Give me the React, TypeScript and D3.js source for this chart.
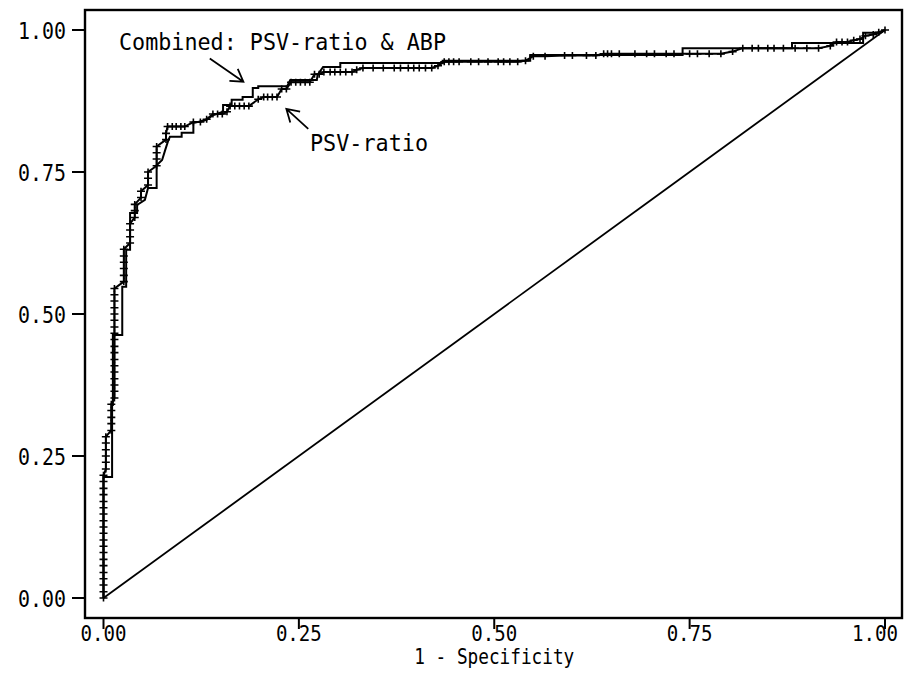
import React from 'react';
import * as d3 from 'd3';

const xTicks = [0, 0.25, 0.5, 0.75, 1];
const yTicks = [0, 0.25, 0.5, 0.75, 1];
const xTickLabels = ['0.00', '0.25', '0.50', '0.75', '1.00'];
const yTickLabels = ['0.00', '0.25', '0.50', '0.75', '1.00'];
const xTitle = '1 - Specificity';
const labelCombined = 'Combined: PSV-ratio & ABP';
const labelPsv = 'PSV-ratio';

// PSV-ratio ROC points (1 - specificity, sensitivity), each marked with "+"
const psvRatio: [number, number][] = [
  [0, 0], [0, 0.011], [0, 0.023], [0, 0.034], [0, 0.045], [0, 0.057], [0, 0.068], [0, 0.08],
  [0, 0.091], [0, 0.102], [0, 0.114], [0, 0.125], [0, 0.136], [0, 0.148], [0, 0.159], [0, 0.17],
  [0, 0.182], [0, 0.193], [0, 0.205], [0, 0.216],
  [0.003, 0.227], [0.003, 0.239], [0.003, 0.25], [0.003, 0.261], [0.003, 0.273], [0.003, 0.284],
  [0.01, 0.295], [0.01, 0.307], [0.01, 0.318], [0.01, 0.33], [0.01, 0.341],
  [0.014, 0.352], [0.014, 0.364], [0.014, 0.375], [0.014, 0.386], [0.014, 0.398], [0.014, 0.409],
  [0.014, 0.42], [0.014, 0.432], [0.014, 0.443], [0.014, 0.455], [0.014, 0.466], [0.014, 0.477],
  [0.014, 0.489], [0.014, 0.5], [0.014, 0.511], [0.014, 0.523], [0.014, 0.534], [0.014, 0.545],
  [0.026, 0.557], [0.026, 0.568], [0.026, 0.58], [0.026, 0.591], [0.026, 0.602], [0.026, 0.614],
  [0.034, 0.625], [0.034, 0.636], [0.034, 0.648], [0.034, 0.659],
  [0.04, 0.67], [0.04, 0.682], [0.04, 0.693],
  [0.048, 0.705], [0.048, 0.716],
  [0.057, 0.727], [0.057, 0.739], [0.057, 0.75],
  [0.068, 0.761], [0.068, 0.773], [0.068, 0.784], [0.068, 0.795],
  [0.08, 0.807], [0.08, 0.818],
  [0.082, 0.83], [0.088, 0.83], [0.093, 0.83], [0.099, 0.83], [0.104, 0.83],
  [0.115, 0.838], [0.124, 0.838], [0.132, 0.843], [0.14, 0.852], [0.146, 0.852], [0.152, 0.852],
  [0.158, 0.856], [0.162, 0.866], [0.168, 0.866], [0.174, 0.866], [0.18, 0.866], [0.186, 0.866],
  [0.198, 0.878], [0.205, 0.882], [0.21, 0.882], [0.216, 0.882], [0.222, 0.882],
  [0.228, 0.896], [0.234, 0.896],
  [0.24, 0.908], [0.246, 0.908], [0.252, 0.908], [0.258, 0.908], [0.264, 0.908],
  [0.27, 0.922], [0.276, 0.922],
  [0.282, 0.926], [0.29, 0.926], [0.296, 0.926], [0.303, 0.926], [0.31, 0.926], [0.318, 0.926], [0.324, 0.93],
  [0.332, 0.933], [0.345, 0.933], [0.358, 0.933], [0.372, 0.933], [0.38, 0.933], [0.39, 0.933],
  [0.397, 0.933], [0.404, 0.933], [0.412, 0.933], [0.42, 0.933], [0.428, 0.937],
  [0.436, 0.944], [0.442, 0.944], [0.448, 0.944], [0.455, 0.944], [0.47, 0.944], [0.48, 0.944],
  [0.492, 0.944], [0.505, 0.944], [0.512, 0.944], [0.52, 0.944], [0.53, 0.944], [0.54, 0.946],
  [0.55, 0.954], [0.565, 0.954], [0.59, 0.955], [0.6, 0.955], [0.618, 0.955], [0.63, 0.955],
  [0.64, 0.958], [0.645, 0.958], [0.65, 0.958], [0.66, 0.958], [0.68, 0.958], [0.695, 0.958],
  [0.705, 0.958], [0.72, 0.958], [0.73, 0.958], [0.75, 0.958], [0.76, 0.958], [0.775, 0.958],
  [0.79, 0.958], [0.805, 0.962],
  [0.818, 0.968], [0.83, 0.968], [0.838, 0.968], [0.85, 0.968], [0.858, 0.968], [0.87, 0.968],
  [0.885, 0.968], [0.9, 0.968], [0.915, 0.968], [0.93, 0.972],
  [0.938, 0.979], [0.945, 0.979], [0.952, 0.979], [0.96, 0.982], [0.968, 0.984],
  [0.975, 0.99], [0.985, 0.992], [0.992, 0.996], [1, 1],
];

// Combined PSV-ratio & ABP ROC (plain step line)
const combined: [number, number][] = [
  [0, 0], [0, 0.213], [0.011, 0.213], [0.011, 0.34], [0.012, 0.34], [0.012, 0.463], [0.024, 0.463],
  [0.024, 0.548], [0.029, 0.548], [0.029, 0.613], [0.034, 0.613], [0.034, 0.678], [0.043, 0.678],
  [0.043, 0.692], [0.053, 0.701], [0.057, 0.722], [0.068, 0.722], [0.068, 0.762], [0.075, 0.771],
  [0.079, 0.789], [0.083, 0.806], [0.085, 0.812], [0.1, 0.812], [0.1, 0.819], [0.115, 0.819],
  [0.115, 0.836], [0.132, 0.842], [0.14, 0.85], [0.153, 0.856], [0.153, 0.868], [0.164, 0.868],
  [0.164, 0.877], [0.178, 0.877], [0.178, 0.882], [0.191, 0.882], [0.191, 0.898], [0.198, 0.898],
  [0.198, 0.901], [0.235, 0.901], [0.239, 0.912], [0.273, 0.912], [0.274, 0.921], [0.281, 0.935],
  [0.303, 0.935], [0.303, 0.942], [0.434, 0.942], [0.434, 0.946], [0.546, 0.946], [0.546, 0.956],
  [0.741, 0.956], [0.741, 0.968], [0.881, 0.968], [0.881, 0.977], [0.972, 0.977], [0.972, 0.995],
  [0.994, 0.995], [1, 1],
];

const reference: [number, number][] = [[0, 0], [1, 1]];

const W = 904;
const H = 681;
const FONT = "'DejaVu Sans Mono', 'Liberation Mono', monospace";

export default function App() {
  const x = d3.scaleLinear().domain([0, 1]).range([103.5, 885]);
  const y = d3.scaleLinear().domain([0, 1]).range([598, 30]);
  const line = d3
    .line<[number, number]>()
    .x((d) => x(d[0]))
    .y((d) => y(d[1]));

  const frame = { left: 85, top: 10, right: 902, bottom: 618 };

  // annotation arrows expressed in data space
  const arrowCombined = { from: [0.136, 0.95] as [number, number], tip: [0.179, 0.909] as [number, number] };
  const arrowPsv = { from: [0.262, 0.826] as [number, number], tip: [0.234, 0.861] as [number, number] };

  const arrowHead = (from: [number, number], tip: [number, number]) => {
    const fx = x(from[0]);
    const fy = y(from[1]);
    const tx = x(tip[0]);
    const ty = y(tip[1]);
    const ang = Math.atan2(ty - fy, tx - fx);
    const len = 14;
    const spread = 0.55;
    const a1 = ang + Math.PI - spread;
    const a2 = ang + Math.PI + spread;
    return `M${fx},${fy}L${tx},${ty}M${tx + len * Math.cos(a1)},${ty + len * Math.sin(a1)}L${tx},${ty}L${tx + len * Math.cos(a2)},${ty + len * Math.sin(a2)}`;
  };

  return (
    <svg
      width={W}
      height={H}
      viewBox={`0 0 ${W} ${H}`}
      style={{ position: 'absolute', left: 0, top: 0, background: '#fff' }}
    >
      <rect x={0} y={0} width={W} height={H} fill="#fff" />
      {/* frame */}
      <rect
        x={frame.left}
        y={frame.top}
        width={frame.right - frame.left}
        height={frame.bottom - frame.top}
        fill="none"
        stroke="#000"
        strokeWidth={2.4}
      />
      {/* y ticks */}
      {yTicks.map((t, i) => (
        <g key={`yt${i}`}>
          <line x1={72} x2={frame.left} y1={y(t)} y2={y(t)} stroke="#000" strokeWidth={2} />
          <text
            x={18}
            y={y(t) + 8.5}
            fontFamily={FONT}
            fontSize={23}
            textLength={48}
            lengthAdjust="spacingAndGlyphs"
            fill="#000"
          >
            {yTickLabels[i]}
          </text>
        </g>
      ))}
      {/* x ticks */}
      {xTicks.map((t, i) => (
        <g key={`xt${i}`}>
          <line x1={x(t)} x2={x(t)} y1={frame.bottom} y2={629} stroke="#000" strokeWidth={2} />
          <text
            x={Math.min(x(t) - 23, W - 52)}
            y={641}
            fontFamily={FONT}
            fontSize={22}
            textLength={46}
            lengthAdjust="spacingAndGlyphs"
            fill="#000"
          >
            {xTickLabels[i]}
          </text>
        </g>
      ))}
      <text
        x={x(0.5) - 80}
        y={664}
        fontFamily={FONT}
        fontSize={22}
        textLength={160}
        lengthAdjust="spacingAndGlyphs"
        fill="#000"
      >
        {xTitle}
      </text>

      {/* reference diagonal */}
      <path d={line(reference) || ''} fill="none" stroke="#000" strokeWidth={1.8} />

      {/* combined */}
      <path d={line(combined) || ''} fill="none" stroke="#000" strokeWidth={2} strokeLinejoin="miter" />

      {/* PSV-ratio */}
      <path d={line(psvRatio) || ''} fill="none" stroke="#000" strokeWidth={2} />
      {psvRatio.map((d, i) => {
        const cx = x(d[0]);
        const cy = y(d[1]);
        return (
          <path
            key={`m${i}`}
            d={`M${cx - 4},${cy}H${cx + 4}M${cx},${cy - 3.5}V${cy + 3.5}`}
            stroke="#000"
            strokeWidth={1.6}
            fill="none"
          />
        );
      })}

      {/* annotations */}
      <text
        x={119}
        y={50}
        fontFamily={FONT}
        fontSize={23}
        textLength={327}
        lengthAdjust="spacingAndGlyphs"
        fill="#000"
      >
        {labelCombined}
      </text>
      <path d={arrowHead(arrowCombined.from, arrowCombined.tip)} fill="none" stroke="#000" strokeWidth={1.8} />
      <text
        x={310}
        y={151}
        fontFamily={FONT}
        fontSize={23}
        textLength={118}
        lengthAdjust="spacingAndGlyphs"
        fill="#000"
      >
        {labelPsv}
      </text>
      <path d={arrowHead(arrowPsv.from, arrowPsv.tip)} fill="none" stroke="#000" strokeWidth={1.8} />
    </svg>
  );
}
